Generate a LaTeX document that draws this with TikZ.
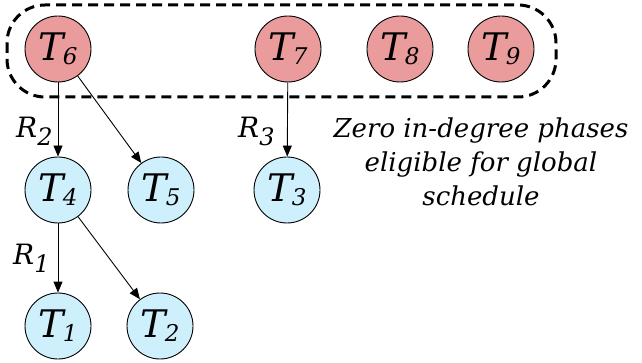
\documentclass[tikz,border=0pt]{standalone}
\usepackage{fontspec}
\setmainfont{DejaVu Serif}[ItalicFont={DejaVu Serif Italic}, BoldFont={DejaVu Serif Bold}]
\usetikzlibrary{arrows.meta}
\definecolor{redfill}{RGB}{234,155,155}
\definecolor{bluefill}{RGB}{206,240,252}
\newcommand\tlabel[1]{\fontsize{38}{40}\selectfont\itshape T\kern-1pt\raisebox{-4pt}{\fontsize{23}{23}\selectfont #1}}
\newcommand\rlabel[1]{\fontsize{28}{30}\selectfont\itshape R\raisebox{-8pt}{\fontsize{24}{24}\selectfont #1}}
\begin{document}
\begin{tikzpicture}[x=1pt,y=-1pt,
  task/.style={circle, draw=black, line width=0.9pt, minimum size=66pt, inner sep=0pt},
  redtask/.style={task, fill=redfill},
  bluetask/.style={task, fill=bluefill},
  dep/.style={line width=0.9pt, -{Triangle[length=11pt,width=9pt]}},
  lbl/.style={inner sep=0pt, anchor=base west},
  group/.style={line width=3pt, dash pattern=on 10pt off 6pt, rounded corners=38pt}]
\useasboundingbox (0,0) rectangle (642,363);
\draw[group] (7,5) rectangle (556,97);
\node[redtask] (T6) at (58,49) {\tlabel{6}};
\node[redtask] (T7) at (288,49) {\tlabel{7}};
\node[redtask] (T8) at (400,49) {\tlabel{8}};
\node[redtask] (T9) at (501,49) {\tlabel{9}};
\node[bluetask] (T4) at (58,190) {\tlabel{4}};
\node[bluetask] (T5) at (161,190) {\tlabel{5}};
\node[bluetask] (T3) at (287,190) {\tlabel{3}};
\node[bluetask] (T1) at (58,326) {\tlabel{1}};
\node[bluetask] (T2) at (160,326) {\tlabel{2}};
\draw[dep] (T6) -- (T4);
\draw[dep] (T6) -- (T5);
\draw[dep] (T7) -- (T3);
\draw[dep] (T4) -- (T1);
\draw[dep] (T4) -- (T2);
\node[lbl] (R2) at (16,138) {\rlabel{2}};
\node[lbl] (R1) at (13,265) {\rlabel{1}};
\node[lbl] (R3) at (238,138) {\rlabel{3}};
\node[align=center, inner sep=0pt, font=\fontsize{26}{34}\selectfont\itshape] (note) at (481,162)
  {Zero in-degree phases\\eligible for global\\schedule};
\end{tikzpicture}
\end{document}
